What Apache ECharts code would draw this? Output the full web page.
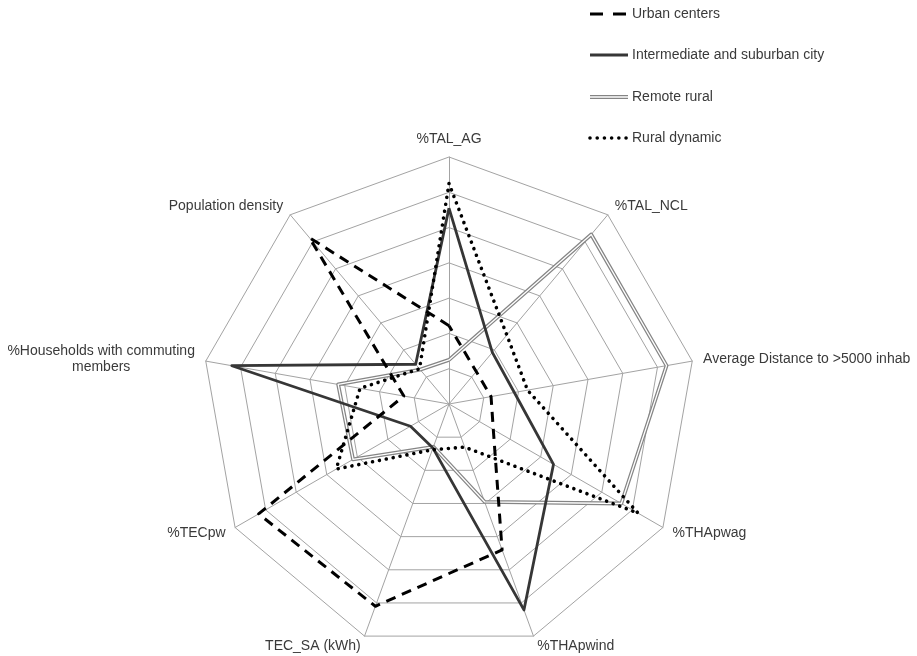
<!DOCTYPE html>
<html>
<head>
<meta charset="utf-8">
<script src="https://cdn.jsdelivr.net/npm/echarts@6/dist/echarts.min.js"></script>
<style>
  html, body { margin: 0; padding: 0; background: #fff; }
  #chart { width: 917px; height: 656px; }
</style>
</head>
<body>
<div id="chart"></div>
<script>
// Indicators, listed clockwise starting from the top spoke
const indicators = [
  '%TAL_AG',
  '%TAL_NCL',
  'Average Distance to >5000 inhab',
  '%THApwag',
  '%THApwind',
  'TEC_SA (kWh)',
  '%TECpw',
  '%Households with commuting\nmembers',
  'Population density'
];

const seriesNames = [
  'Urban centers',
  'Intermediate and suburban city',
  'Remote rural',
  'Rural dynamic'
];

// Values per indicator (same clockwise order as above)
const urbanCenters  = [2.22, 1.20, 1.21, 1.45, 4.40, 6.10, 6.23, 1.30, 6.15];
const intermediate  = [5.55, 1.91, 1.88, 3.42, 6.21, 1.33, 1.26, 6.25, 1.47];
const remoteRural   = [1.25, 6.27, 6.26, 5.64, 2.95, 1.29, 3.14, 3.19, 1.27];
const ruralDynamic  = [6.25, 2.55, 2.26, 6.19, 1.30, 1.38, 3.69, 2.56, 1.30];

const axisMax = 7;
const ringCount = 7;

// ECharts lays radar indicators out counter-clockwise, so reverse everything
// after the first (top) entry to get a clockwise layout.
function clockwise(arr) {
  return [arr[0]].concat(arr.slice(1).reverse());
}

const FONT = '"Liberation Sans", Arial, Helvetica, sans-serif';
const TEXT_COLOR = '#3a3a3a';
const GRID_COLOR = '#a3a3a3';

const styles = {
  urban:  { color: '#000000', width: 3,   type: [10, 7] },
  inter:  { color: '#363636', width: 2.8, type: 'solid' },
  remoteOuter: { color: '#858585', width: 3.8, type: 'solid' },
  remoteInner: { color: '#ffffff', width: 1.3, type: 'solid' },
  dots:   { color: '#000000', width: 3.6, type: [0.01, 7], cap: 'round' }
};

const chart = echarts.init(document.getElementById('chart'), null, { renderer: 'canvas' });

function radarSeries(name, values, lineStyle, z) {
  return {
    type: 'radar',
    name: name,
    symbol: 'none',
    silent: true,
    z: z,
    lineStyle: lineStyle,
    data: [{ name: name, value: clockwise(values) }]
  };
}

// Legend drawn as line samples plus labels
const legendX0 = 590, legendX1 = 628, legendTextX = 632;
const legendRows = [14, 55, 97, 138];

function legendLine(y, st, z) {
  return {
    type: 'line',
    z: z || 10,
    shape: { x1: legendX0, y1: y, x2: legendX1, y2: y },
    style: {
      stroke: st.color,
      lineWidth: st.width,
      lineDash: Array.isArray(st.type) ? st.type : null,
      lineCap: st.cap || 'butt'
    }
  };
}

const legendGraphics = [
  legendLine(legendRows[0], { color: '#000', width: 3, type: [13, 10] }),
  legendLine(legendRows[1], styles.inter),
  legendLine(legendRows[2], styles.remoteOuter),
  legendLine(legendRows[2], styles.remoteInner, 11),
  legendLine(legendRows[3], { color: '#000', width: 3.6, type: [0.01, 7.2], cap: 'round' })
];
seriesNames.forEach(function (n, i) {
  legendGraphics.push({
    type: 'text',
    z: 10,
    style: {
      x: legendTextX,
      y: legendRows[i],
      text: n,
      fill: TEXT_COLOR,
      font: '14px ' + FONT,
      textVerticalAlign: 'middle',
      verticalAlign: 'middle',
      align: 'left'
    }
  });
});

const option = {
  animation: false,
  backgroundColor: '#ffffff',
  radar: {
    center: [449, 404],
    radius: 247,
    startAngle: 90,
    shape: 'polygon',
    splitNumber: ringCount,
    nameGap: 11,
    indicator: clockwise(indicators).map(function (n) {
      return { name: n, min: 0, max: axisMax };
    }),
    axisName: {
      color: TEXT_COLOR,
      fontSize: 14,
      fontFamily: FONT,
      formatter: function (name) {
        if (name.indexOf('\n') >= 0) {
          return name.split('\n').map(function (s) { return '{c|' + s + '}'; }).join('\n');
        }
        return name;
      },
      rich: {
        c: { align: 'center', fontSize: 14, fontFamily: FONT, color: TEXT_COLOR, lineHeight: 16 }
      }
    },
    axisLine: { lineStyle: { color: GRID_COLOR, width: 1 } },
    splitLine: { lineStyle: { color: GRID_COLOR, width: 1 } },
    splitArea: { show: false },
    axisTick: { show: false },
    axisLabel: { show: false }
  },
  graphic: legendGraphics,
  series: [
    radarSeries(seriesNames[2], remoteRural, styles.remoteOuter, 2),
    radarSeries(seriesNames[2] + ' ', remoteRural, styles.remoteInner, 3),
    radarSeries(seriesNames[1], intermediate, styles.inter, 4),
    radarSeries(seriesNames[0], urbanCenters, styles.urban, 5),
    radarSeries(seriesNames[3], ruralDynamic, styles.dots, 6)
  ]
};

chart.setOption(option);
</script>
</body>
</html>
